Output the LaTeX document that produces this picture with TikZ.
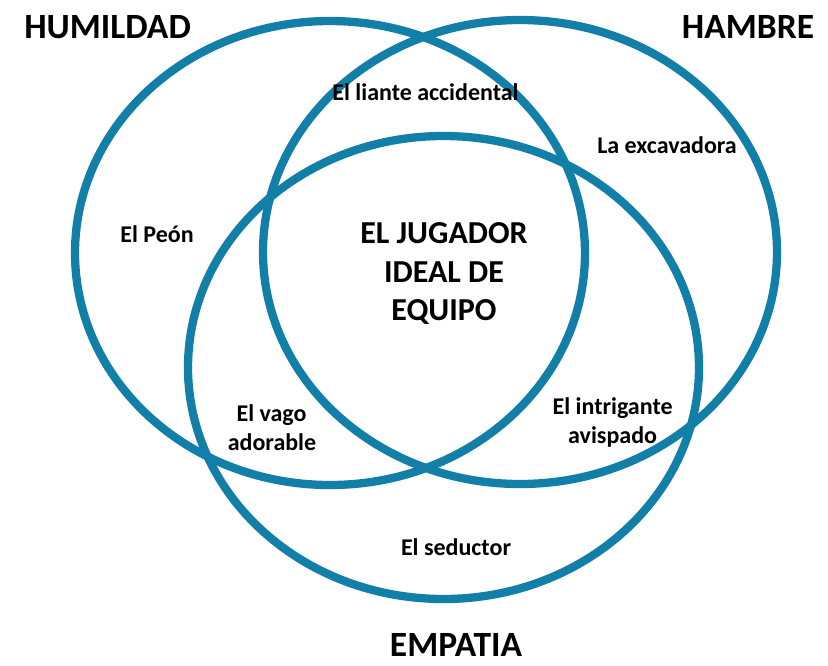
\documentclass[tikz,border=0pt]{standalone}
\usepackage{fontspec}
\setmainfont{Carlito}
\definecolor{vennblue}{RGB}{18,127,168}
\begin{document}
\begin{tikzpicture}[x=1pt,y=-1pt,
  venn/.style={draw=vennblue, line width=8.3pt},
  lbl/.style={anchor=base, inner sep=0pt, font=\bfseries\fontsize{24}{28.8}\selectfont},
  big/.style={anchor=base, inner sep=0pt, font=\bfseries\fontsize{32}{38}\selectfont},
  ttl/.style={anchor=base, inner sep=0pt, font=\bfseries\fontsize{35.5}{42}\selectfont}]
\useasboundingbox (0,0) rectangle (828,665);
% circles
\draw[venn] (330,253) ellipse [x radius=255pt, y radius=232pt];
\draw[venn] (520,252) ellipse [x radius=257pt, y radius=232pt];
\draw[venn] (443.5,367.5) ellipse [x radius=255.5pt, y radius=231.5pt];
% titles
\node[ttl] (humildad) at (107.6,38.5) {HUMILDAD};
\node[ttl] (hambre) at (748,38.5) {HAMBRE};
\node[ttl] (empatia) at (456,656) {EMPATIA};
% region labels
\node[lbl] (liante) at (425.5,100.7) {El liante accidental};
\node[lbl] (excavadora) at (667,153.8) {La excavadora};
\node[lbl] (peon) at (157,242) {El Peón};
\node[big] (jug1) at (444,243.7) {EL JUGADOR};
\node[big] (jug2) at (444,282) {IDEAL DE};
\node[big] (jug3) at (444,320.5) {EQUIPO};
\node[lbl] (vago1) at (271.5,421) {El vago};
\node[lbl] (vago2) at (272,450) {adorable};
\node[lbl] (intr1) at (612.6,414.6) {El intrigante};
\node[lbl] (intr2) at (612.6,443.5) {avispado};
\node[lbl] (seductor) at (456,555.8) {El seductor};
\end{tikzpicture}
\end{document}
